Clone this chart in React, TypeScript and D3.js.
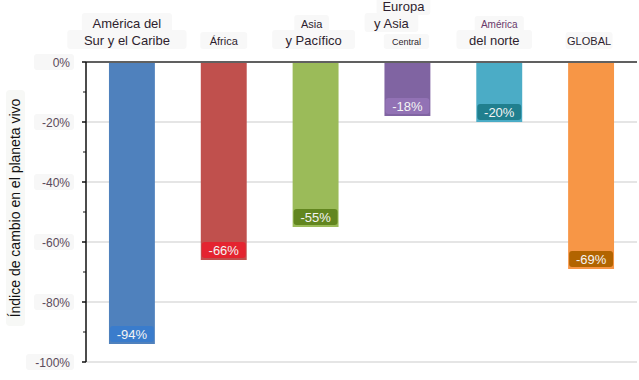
import React from "react";
import * as d3 from "d3";

const categories = ["sa", "af", "ap", "ea", "na", "gl"];
const values = [-94, -66, -55, -18, -20, -69];
const valueLabels = ["-94%", "-66%", "-55%", "-18%", "-20%", "-69%"];
const barColors = ["#4f81bd", "#c0504d", "#9bbb59", "#8064a2", "#4bacc6", "#f79646"];
const labelColors = ["#3a7ccc", "#e42430", "#62861f", "#9272b5", "#207f8e", "#b26400"];
// category header lines: [text, fontSize, baseline, xOffset]
const headerLines: [string, number, number, number][][] = [
  [["América del", 13, 28, -5], ["Sur y el Caribe", 13, 45, -5]],
  [["África", 11, 45, 0]],
  [["Asia", 11, 28, -4], ["y Pacífico", 13, 45, -2]],
  [["Europa", 13, 11, -4], ["y Asia", 13, 28, -16], ["Central", 9, 45, -1]],
  [["América", 10, 28, 0], ["del norte", 13, 45, -5]],
  [["GLOBAL", 11, 45, -2]],
];
const yTicks = [0, -20, -40, -60, -80, -100];
const yMinorTicks = [-10, -30, -50, -70, -90];
const yTickLabels = ["0%", "-20%", "-40%", "-60%", "-80%", "-100%"];
const yTitle = "Índice de cambio en el planeta vivo";

const W = 639, H = 380;
const FONT = "'Liberation Sans', Arial, sans-serif";

export default function App() {
  const x = d3.scaleBand<string>().domain(categories).range([86, 637]).paddingInner(0.5).paddingOuter(0.25);
  const y = d3.scaleLinear().domain([0, -100]).range([62, 362]);
  const x0 = 86;
  return (
    <svg width={W} height={H} style={{ position: "absolute", left: 0, top: 0 }} fontFamily={FONT}>
      <rect width={W} height={H} fill="#fff" />
      {yTicks.slice(1).map((t) => (
        <line key={t} x1={x0} x2={637} y1={y(t)} y2={y(t)} stroke="#dcdcdc" strokeWidth={1.5} />
      ))}
      {categories.map((c, i) => {
        const bx = x(c)!;
        const bw = x.bandwidth();
        const yb = y(values[i]);
        return (
          <g key={c}>
            <rect x={bx} y={y(0)} width={bw} height={yb - y(0)} fill={barColors[i]} />
            <rect x={bx + 1} y={yb - 18} width={bw - 2} height={16} rx={3} fill={labelColors[i]} />
            <text x={bx + bw / 2} y={yb - 5.5} textAnchor="middle" fontSize={13} fill="#f4f4f4">
              {valueLabels[i]}
            </text>
          </g>
        );
      })}
      <line x1={x0} x2={637} y1={y(0)} y2={y(0)} stroke="#606060" strokeWidth={2} />
      <line x1={x0} x2={x0} y1={y(0)} y2={y(-100)} stroke="#111" strokeWidth={1.5} />
      {yTicks.map((t) => (
        <line key={t} x1={x0 - 4} x2={x0} y1={y(t)} y2={y(t)} stroke="#111" strokeWidth={1.5} />
      ))}
      {yMinorTicks.map((t) => (
        <line key={t} x1={x0 - 3} x2={x0} y1={y(t)} y2={y(t)} stroke="#111" strokeWidth={1} />
      ))}
      {yTicks.map((t, i) => (
        <g key={t}>
          <rect x={i === 5 ? 26 : 34} y={y(t) - 8} width={i === 5 ? 48 : 40} height={16} rx={3} fill="#f7f7f7" />
          <text x={70} y={y(t) + 4.5} textAnchor="end" fontSize={12} fill="#5a4a5a">
            {yTickLabels[i]}
          </text>
        </g>
      ))}
      <g transform={`translate(20,${208}) rotate(-90)`}>
        <rect x={-118} y={-14} width={236} height={19} rx={4} fill="#f7f8f6" />
        <text textAnchor="middle" fontSize={14} fill="#111">
          {yTitle}
        </text>
      </g>
      {categories.map((c, i) => {
        const cx0 = x(c)! + x.bandwidth() / 2;
        return (
          <g key={"h" + c}>
            {headerLines[i].map(([t, fs, by, dx]) => {
              const cx = cx0 + dx;
              const w = t.length * fs * 0.56 + 10;
              return (
                <g key={t}>
                  <rect x={cx - w / 2} y={by - fs - 2} width={w} height={fs + 6} rx={3} fill="#f8f8f8" />
                  <text x={cx} y={by} textAnchor="middle" fontSize={fs} fill={t === "América" ? "#6a3a6a" : "#2e1e2e"}>
                    {t}
                  </text>
                </g>
              );
            })}
          </g>
        );
      })}
    </svg>
  );
}
